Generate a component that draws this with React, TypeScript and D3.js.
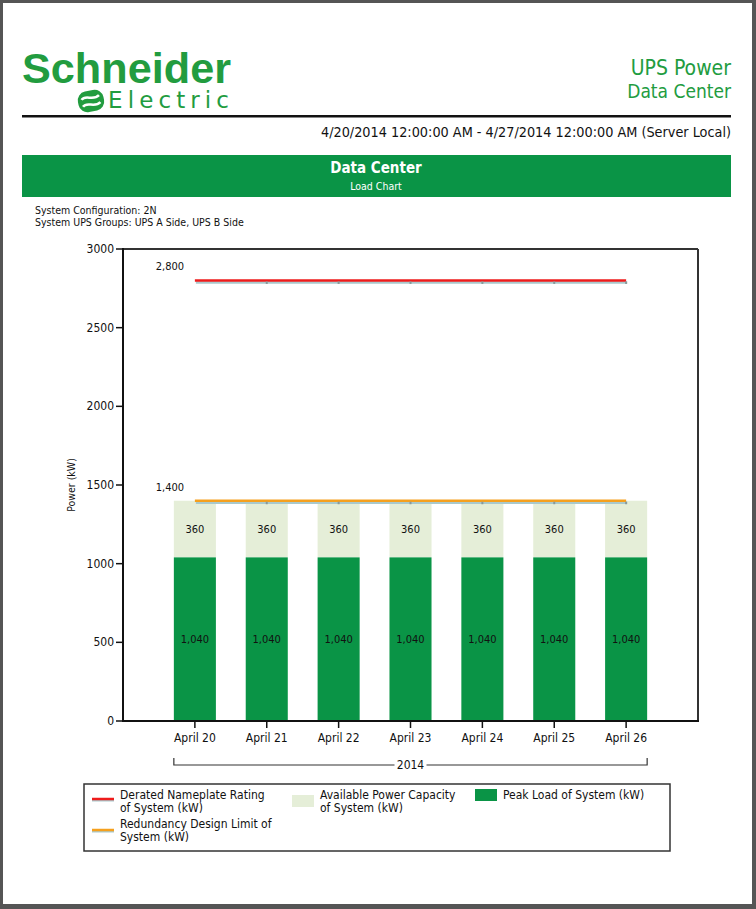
import React from 'react';
import * as d3 from 'd3';

const categories = ['April 20', 'April 21', 'April 22', 'April 23', 'April 24', 'April 25', 'April 26'];
const peakLoad = [1040, 1040, 1040, 1040, 1040, 1040, 1040];
const availableCapacity = [360, 360, 360, 360, 360, 360, 360];
const deratedRating = [2800, 2800, 2800, 2800, 2800, 2800, 2800];
const redundancyLimit = [1400, 1400, 1400, 1400, 1400, 1400, 1400];
const yTicks = [0, 500, 1000, 1500, 2000, 2500, 3000];
const yearLabel = '2014';

const FONT = '"DejaVu Sans Condensed", "DejaVu Sans", sans-serif';
const GREEN = '#0a9446';
const LIGHT = '#e5eed8';
const BRAND = '#229c3f';

const fmt = d3.format(',');

export default function App() {
  const W = 756;
  const H = 909;
  const plot = { left: 123, right: 698, top: 249, bottom: 721 };

  const x = d3.scalePoint<string>().domain(categories).range([plot.left, plot.right]).padding(1);
  const y = d3.scaleLinear().domain([0, 3000]).range([plot.bottom, plot.top]);
  const barW = x.step() * 0.585;

  const line = d3.line<number>()
    .x((_, i) => x(categories[i]) as number)
    .y(d => y(d));

  const first = x(categories[0]) as number;
  const last = x(categories[categories.length - 1]) as number;
  const brLeft = first - barW / 2;
  const brRight = last + barW / 2;
  const brY = 765;

  return (
    <div style={{ position: 'absolute', left: 0, top: 0 }}>
      <svg width={W} height={H} style={{ display: 'block' }} fontFamily={FONT}>
        <rect x={0} y={0} width={W} height={H} fill="#555555" />
        <rect x={3} y={3} width={749} height={901} fill="#ffffff" />

        {/* logo */}
        <text x={22} y={83} fill={BRAND} fontSize={43} fontWeight="bold" fontFamily='"Liberation Sans", Arial, sans-serif'
          textLength={209} lengthAdjust="spacingAndGlyphs">Schneider</text>
        <text x={108} y={108} fill={BRAND} fontSize={23} fontFamily='"DejaVu Sans", sans-serif'
          textLength={121} lengthAdjust="spacing">Electric</text>
        <g transform="translate(91,101) rotate(-12)">
          <rect x={-13} y={-10.5} width={26} height={21} rx={9} fill={BRAND} />
          <path d="M-9,-3 C-4,-8 2,1 9,-4" stroke="#fff" strokeWidth={2.5} fill="none" />
          <path d="M-9,4 C-4,-1 2,8 9,3" stroke="#fff" strokeWidth={2.5} fill="none" />
        </g>

        <text x={731} y={75} textAnchor="end" fill={BRAND} fontSize={21}>UPS Power</text>
        <text x={731} y={98} textAnchor="end" fill={BRAND} fontSize={19}>Data Center</text>
        <rect x={22} y={115} width={709} height={2.5} fill="#111" />

        <text x={731} y={137} textAnchor="end" fill="#111" fontSize={14.3}>
          4/20/2014 12:00:00 AM - 4/27/2014 12:00:00 AM (Server Local)
        </text>

        <rect x={22} y={155} width={709} height={42} fill={GREEN} />
        <text x={376} y={173} textAnchor="middle" fill="#fff" fontSize={15} fontWeight="bold">Data Center</text>
        <text x={376} y={190} textAnchor="middle" fill="#fff" fontSize={10.5}>Load Chart</text>

        <text x={35} y={214} fill="#111" fontSize={10.5}>System Configuration: 2N</text>
        <text x={35} y={226} fill="#111" fontSize={10.5}>System UPS Groups: UPS A Side, UPS B Side</text>

        {/* bars */}
        {categories.map((c, i) => {
          const cx = x(c) as number;
          const top = peakLoad[i] + availableCapacity[i];
          return (
            <g key={c}>
              <rect x={cx - barW / 2} y={y(top)} width={barW} height={y(peakLoad[i]) - y(top)} fill={LIGHT} />
              <rect x={cx - barW / 2} y={y(peakLoad[i])} width={barW} height={y(0) - y(peakLoad[i])} fill={GREEN} />
              <text x={cx} y={(y(top) + y(peakLoad[i])) / 2 + 4} textAnchor="middle" fontSize={11} fill="#111">
                {fmt(availableCapacity[i])}
              </text>
              <text x={cx} y={(y(peakLoad[i]) + y(0)) / 2 + 4} textAnchor="middle" fontSize={11} fill="#111">
                {fmt(peakLoad[i])}
              </text>
            </g>
          );
        })}

        {/* lines */}
        {[{ data: deratedRating, color: '#ee1c1c' }, { data: redundancyLimit, color: '#f5a01e' }].map((s, k) => (
          <g key={k}>
            <path d={line(s.data) as string} transform="translate(1,2)" stroke="#a9c9cc" strokeWidth={2.5} fill="none" />
            <path d={line(s.data) as string} stroke={s.color} strokeWidth={2.5} fill="none" />
            {categories.map((c, i) => i > 0 && (
              <rect key={c} x={(x(c) as number) - 1} y={y(s.data[i]) + 1} width={2} height={2.5} fill="#8a9a9a" />
            ))}
            <text x={first - 25} y={y(s.data[0]) - 10} textAnchor="middle" fontSize={11} fill="#111">
              {fmt(s.data[0])}
            </text>
          </g>
        ))}

        {/* frame */}
        <line x1={plot.left} x2={plot.right} y1={plot.top} y2={plot.top} stroke="#333" strokeWidth={2} />
        <line x1={plot.right} x2={plot.right} y1={plot.top} y2={plot.bottom} stroke="#333" strokeWidth={2} />
        <line x1={plot.left} x2={plot.left} y1={plot.top - 1} y2={plot.bottom + 1} stroke="#111" strokeWidth={2} />
        <line x1={plot.left} x2={plot.right + 1} y1={plot.bottom} y2={plot.bottom} stroke="#111" strokeWidth={2} />

        {/* y axis */}
        {yTicks.map(t => (
          <g key={t}>
            <line x1={plot.left - 7} x2={plot.left} y1={y(t)} y2={y(t)} stroke="#111" strokeWidth={1.5} />
            <text x={plot.left - 9} y={y(t) + 4} textAnchor="end" fontSize={12} fill="#111">{t}</text>
          </g>
        ))}
        <text transform={`translate(75,${(plot.top + plot.bottom) / 2}) rotate(-90)`} textAnchor="middle" fontSize={10.5} fill="#111">
          Power (kW)
        </text>

        {/* x axis */}
        {categories.map(c => (
          <g key={c}>
            <line x1={x(c) as number} x2={x(c) as number} y1={plot.bottom} y2={plot.bottom + 7} stroke="#111" strokeWidth={1.5} />
            <text x={x(c) as number} y={plot.bottom + 21} textAnchor="middle" fontSize={12} fill="#111">{c}</text>
          </g>
        ))}

        {/* year bracket */}
        <path d={`M${brLeft},${brY - 7}V${brY}H${brRight}V${brY - 7}`} stroke="#333" strokeWidth={1.2} fill="none" />
        <rect x={(brLeft + brRight) / 2 - 16} y={brY - 7} width={32} height={14} fill="#fff" />
        <text x={(brLeft + brRight) / 2} y={brY + 4} textAnchor="middle" fontSize={12} fill="#111">{yearLabel}</text>

        {/* legend */}
        <rect x={84} y={784} width={586} height={67} fill="#fff" stroke="#333" strokeWidth={1.5} />
        <line x1={92} x2={114} y1={800} y2={800} stroke="#a9c9cc" strokeWidth={3} />
        <line x1={92} x2={114} y1={799} y2={799} stroke="#ee1c1c" strokeWidth={2.5} />
        <text x={120} y={799} fontSize={12} fill="#111">Derated Nameplate Rating</text>
        <text x={120} y={812} fontSize={12} fill="#111">of System (kW)</text>
        <line x1={92} x2={114} y1={831} y2={831} stroke="#a9c9cc" strokeWidth={3} />
        <line x1={92} x2={114} y1={830} y2={830} stroke="#f5a01e" strokeWidth={2.5} />
        <text x={120} y={828} fontSize={12} fill="#111">Redundancy Design Limit of</text>
        <text x={120} y={841} fontSize={12} fill="#111">System (kW)</text>

        <rect x={292} y={795} width={22} height={12} fill={LIGHT} />
        <text x={320} y={799} fontSize={12} fill="#111">Available Power Capacity</text>
        <text x={320} y={812} fontSize={12} fill="#111">of System (kW)</text>

        <rect x={475} y={789} width={22} height={12} fill={GREEN} />
        <text x={503} y={799} fontSize={12} fill="#111">Peak Load of System (kW)</text>
      </svg>
    </div>
  );
}
